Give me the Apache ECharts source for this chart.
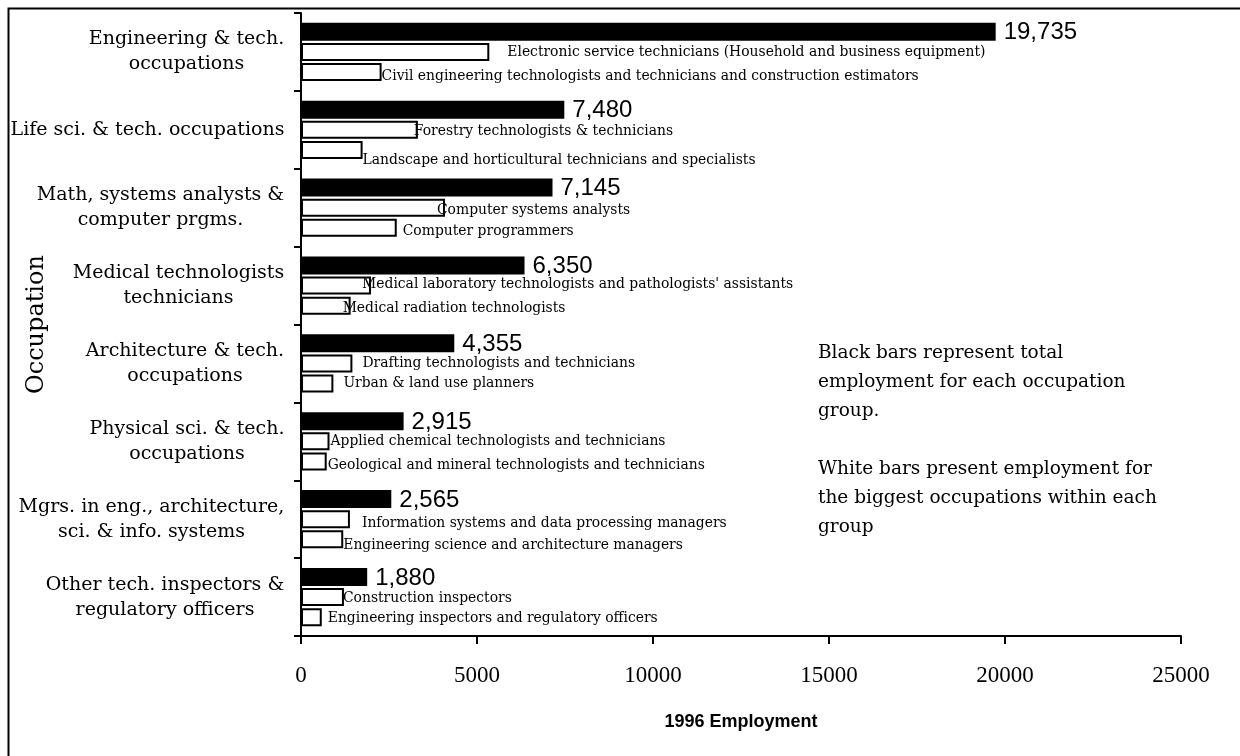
<!DOCTYPE html>
<html>
<head>
<meta charset="utf-8">
<title>1996 Employment</title>
<script src="https://cdn.jsdelivr.net/npm/echarts@6/dist/echarts.min.js"></script>
<style>
html, body { margin: 0; padding: 0; background: #fff; }
#main { width: 1240px; height: 756px; }
</style>
</head>
<body>
<div id="main"></div>
<script>
// occupation groups (top to bottom)
var groups = [
	'Engineering & tech.\noccupations',
	'Life sci. & tech. occupations',
	'Math, systems analysts &\ncomputer prgms.',
	'Medical technologists\ntechnicians',
	'Architecture & tech.\noccupations',
	'Physical sci. & tech.\noccupations',
	'Mgrs. in eng., architecture,\nsci. & info. systems',
	'Other tech. inspectors &\nregulatory officers'
];
// black bars: total per group
var groupTotals = [19735, 7480, 7145, 6350, 4355, 2915, 2565, 1880];

// white bars: biggest occupation in each group
var firstJobs = [
	'Electronic service technicians (Household and business equipment)',
	'Forestry technologists & technicians',
	'Computer systems analysts',
	"Medical laboratory technologists and pathologists' assistants",
	'Drafting technologists and technicians',
	'Applied chemical technologists and technicians',
	'Information systems and data processing managers',
	'Construction inspectors'
];
var firstValues = [5350, 3320, 4090, 1990, 1460, 810, 1390, 1220];

// white bars: second biggest occupation
var secondJobs = [
	'Civil engineering technologists and technicians and construction estimators',
	'Landscape and horticultural technicians and specialists',
	'Computer programmers',
	'Medical radiation technologists',
	'Urban & land use planners',
	'Geological and mineral technologists and technicians',
	'Engineering science and architecture managers',
	'Engineering inspectors and regulatory officers'
];
var secondValues = [2290, 1750, 2720, 1410, 920, 730, 1200, 590];

// x axis ticks
var xMin = 0;
var xMax = 25000;
var xStep = 5000;

var noteText = 'Black bars represent total\nemployment for each occupation\ngroup.\n\nWhite bars present employment for\nthe biggest occupations within each\ngroup';

var SERIF = '"DejaVu Serif", "Liberation Serif", serif';
var SANS = '"Liberation Sans", Arial, sans-serif';

// label nudges (the original labels were placed by hand)
var firstShift = [[18, 0], [-4, 2], [-8, 3], [-9, -1], [10, 0], [1, 0], [12, 4], [-1, 1]];
var secondShift = [[0, 4], [0, 10], [6, 4], [-8, 3], [10, 0], [1, 4], [0, 6], [6, 1]];

// 每个分类标签: 行内居中, 整体右对齐
var catFont = 19;
var ctx = document.createElement('canvas').getContext('2d');
ctx.font = catFont + 'px ' + SERIF;
var catRich = {};
groups.forEach(function (g, i) {
	var w = 0;
	g.split('\n').forEach(function (line) {
		w = Math.max(w, ctx.measureText(line).width);
	});
	catRich['g' + i] = {
		width: Math.ceil(w) + 1,
		align: 'center',
		fontSize: catFont,
		fontFamily: SERIF,
		color: '#000',
		lineHeight: 25
	};
});

function subData(values, names, shift) {
	return values.map(function (v, i) {
		return {
			value: v,
			name: names[i],
			label: { offset: shift[i] }
		};
	});
}

var myChart = echarts.init(document.getElementById('main'));

myChart.setOption({
	animation: false,
	backgroundColor: '#fff',
	grid: { left: 301, right: 59, top: 13, bottom: 120, containLabel: false, outerBoundsMode: 'none' },
	xAxis: {
		type: 'value',
		min: xMin,
		max: xMax,
		interval: xStep,
		name: '1996 Employment',
		nameLocation: 'middle',
		nameGap: 77,
		nameMoveOverlap: false,
		nameTextStyle: { fontFamily: SANS, fontWeight: 'bold', fontSize: 18, color: '#000' },
		axisLine: { show: true, lineStyle: { color: '#000', width: 2 } },
		axisTick: { show: true, length: 8, lineStyle: { color: '#000', width: 2 } },
		axisLabel: {
			fontFamily: '"Liberation Serif", serif',
			fontSize: 23,
			color: '#000',
			margin: 28,
			formatter: function (v) { return String(v); }
		},
		splitLine: { show: false }
	},
	yAxis: {
		type: 'category',
		inverse: true,
		data: groups,
		name: 'Occupation',
		nameLocation: 'middle',
		nameGap: 252,
		nameRotate: 90,
		nameMoveOverlap: false,
		nameTextStyle: { fontFamily: SERIF, fontSize: 24, color: '#000' },
		axisLine: { show: true, lineStyle: { color: '#000', width: 2 } },
		axisTick: { show: true, length: 7, lineStyle: { color: '#000', width: 2 } },
		axisLabel: {
			margin: 16,
			formatter: function (val, idx) {
				return val.split('\n').map(function (line) {
					return '{g' + idx + '|' + line + '}';
				}).join('\n');
			},
			rich: catRich
		}
	},
	series: [
		{
			name: 'Total',
			type: 'bar',
			data: groupTotals,
			barWidth: 18,
			barGap: '12%',
			itemStyle: { color: '#000' },
			label: {
				show: true,
				position: 'right',
				distance: 8,
				offset: [0, 1],
				fontFamily: SANS,
				fontSize: 24,
				color: '#000',
				formatter: function (p) { return echarts.format.addCommas(p.value); }
			}
		},
		{
			name: 'Biggest occupation',
			type: 'bar',
			data: subData(firstValues, firstJobs, firstShift),
			barWidth: 18,
			itemStyle: { color: '#fff', borderColor: '#000', borderWidth: 2 },
			label: {
				show: true,
				position: 'right',
				distance: 0,
				fontFamily: SERIF,
				fontSize: 13.9,
				color: '#000',
				formatter: '{b}'
			}
		},
		{
			name: 'Second occupation',
			type: 'bar',
			data: subData(secondValues, secondJobs, secondShift),
			barWidth: 18,
			itemStyle: { color: '#fff', borderColor: '#000', borderWidth: 2 },
			label: {
				show: true,
				position: 'right',
				distance: 0,
				fontFamily: SERIF,
				fontSize: 13.9,
				color: '#000',
				formatter: '{b}'
			}
		}
	],
	graphic: [
		{
			type: 'rect',
			left: 6,
			top: 6,
			silent: true,
			z: -10,
			shape: { width: 1250, height: 760 },
			style: { fill: 'none', stroke: '#000', lineWidth: 2 }
		},
		{
			type: 'text',
			left: 818,
			top: 339,
			silent: true,
			style: {
				text: noteText,
				fontFamily: SERIF,
				fontSize: 18.5,
				lineHeight: 29,
				fill: '#000'
			}
		}
	]
});
window.onresize = function () {
	myChart.resize();
};
</script>
</body>
</html>
